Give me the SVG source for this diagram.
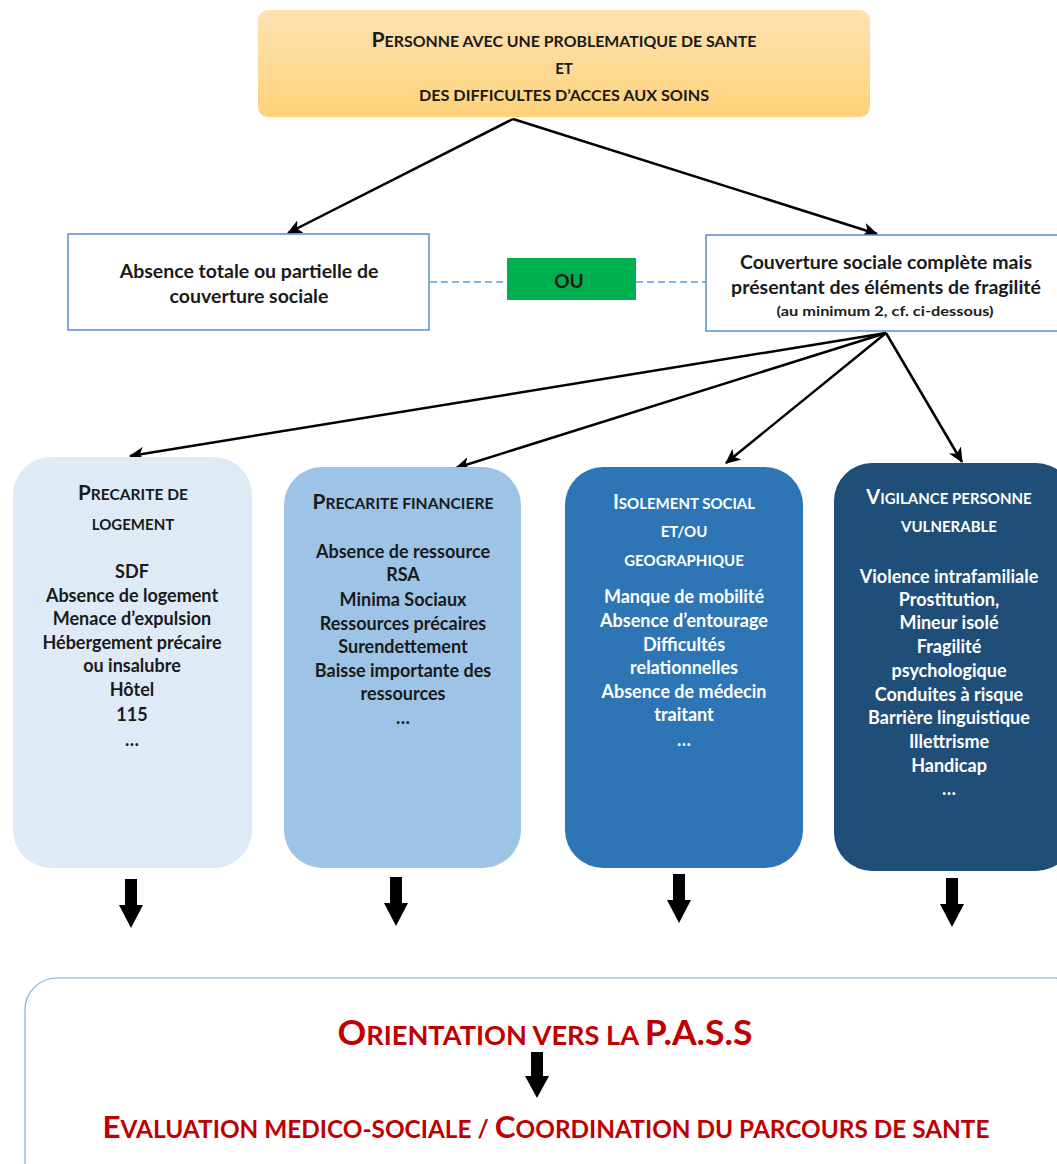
<svg xmlns="http://www.w3.org/2000/svg" width="1057" height="1164" viewBox="0 0 1057 1164">
<defs>
<linearGradient id="gTop" x1="0" y1="0" x2="0" y2="1">
<stop offset="0" stop-color="#FCE2B2"/>
<stop offset="1" stop-color="#FFD27A"/>
</linearGradient>
<marker id="ah" markerUnits="userSpaceOnUse" markerWidth="16" markerHeight="14" refX="14" refY="7" orient="auto">
<path d="M0,0 L15,7 L0,14 L4,7 Z" fill="#000"/>
</marker>
<style>
.t{font-family:Lato,"Open Sans","Liberation Sans",sans-serif;font-weight:bold;text-anchor:middle}
.dk{fill:#1a1a1a}
.wh{fill:#ffffff}
.it{font-size:18px}
.bx{font-size:19.5px}
.red{fill:#C00000}
.conn{stroke:#000;stroke-width:2.5;fill:none;marker-end:url(#ah)}
.dash{stroke:#5B9BD5;stroke-width:1.3;stroke-dasharray:7,4;fill:none}
.blk{fill:#000}
</style>
</defs>

<g id="connectors">
<line class="conn" x1="513" y1="119" x2="288" y2="233"/>
<line class="conn" x1="513" y1="119" x2="877" y2="234"/>
<line class="dash" x1="430" y1="282" x2="507" y2="282"/>
<line class="dash" x1="636" y1="282" x2="706" y2="282"/>
<line class="conn" x1="886" y1="333" x2="130" y2="456"/>
<line class="conn" x1="886" y1="333" x2="456" y2="468"/>
<line class="conn" x1="886" y1="333" x2="726" y2="463"/>
<line class="conn" x1="886" y1="333" x2="962" y2="462"/>
<path class="blk" d="M125,879 H137 V905 H143 L131,928 L119,905 H125 Z"/>
<path class="blk" d="M390,877 H402 V903 H408 L396,926 L384,903 H390 Z"/>
<path class="blk" d="M673,874 H685 V900 H691 L679,923 L667,900 H673 Z"/>
<path class="blk" d="M946,878 H958 V904 H964 L952,927 L940,904 H946 Z"/>
</g>

<g id="top">
<rect x="258" y="10" width="612" height="107" rx="10" fill="url(#gTop)"/>
<text class="t dk" x="564" y="47" textLength="385" lengthAdjust="spacingAndGlyphs"><tspan font-size="20">P</tspan><tspan font-size="15">ERSONNE AVEC UNE PROBLEMATIQUE DE SANTE</tspan></text>
<text class="t dk" x="564" y="74" font-size="15">ET</text>
<text class="t dk" x="564" y="101" font-size="15" textLength="290" lengthAdjust="spacingAndGlyphs">DES DIFFICULTES D’ACCES AUX SOINS</text>
</g>

<g id="absence">
<rect x="68" y="234" width="361" height="96" fill="#fff" stroke="#5B8BD6" stroke-width="1.5"/>
<text class="t dk bx" x="249" y="278">Absence totale ou partielle de</text>
<text class="t dk bx" x="249" y="303">couverture sociale</text>
</g>

<g id="ou">
<rect x="507" y="258" width="129" height="42" fill="#00B050"/>
<text class="t dk" x="569" y="288" font-size="19">OU</text>
</g>

<g id="couverture">
<rect x="706" y="235" width="355" height="96" fill="#fff" stroke="#5B8BD6" stroke-width="1.5"/>
<text class="t dk bx" x="886" y="269">Couverture sociale complète mais</text>
<text class="t dk bx" x="886" y="294">présentant des éléments de fragilité</text>
<text class="t dk" x="885" y="316" font-size="14" textLength="217" lengthAdjust="spacingAndGlyphs">(au minimum 2, cf. ci-dessous)</text>
</g>

<g id="logement">
<rect x="13" y="457" width="239" height="411" rx="38" fill="#DEEAF6"/>
<text class="t dk" x="133" y="500" textLength="110" lengthAdjust="spacingAndGlyphs"><tspan font-size="20">P</tspan><tspan font-size="15">RECARITE DE</tspan></text>
<text class="t dk" x="133" y="530" font-size="15">LOGEMENT</text>
<text class="t dk it" x="132" y="578">SDF</text>
<text class="t dk it" x="132" y="602">Absence de logement</text>
<text class="t dk it" x="132" y="625">Menace d’expulsion</text>
<text class="t dk it" x="132" y="649">Hébergement précaire</text>
<text class="t dk it" x="132" y="672">ou insalubre</text>
<text class="t dk it" x="132" y="696">Hôtel</text>
<text class="t dk it" x="132" y="721">115</text>
<text class="t dk it" x="132" y="746">…</text>
</g>

<g id="financiere">
<rect x="284" y="467" width="237" height="401" rx="38" fill="#9DC3E6"/>
<text class="t dk" x="403" y="509" textLength="181" lengthAdjust="spacingAndGlyphs"><tspan font-size="20">P</tspan><tspan font-size="15">RECARITE FINANCIERE</tspan></text>
<text class="t dk it" x="403" y="558">Absence de ressource</text>
<text class="t dk it" x="403" y="581">RSA</text>
<text class="t dk it" x="403" y="606">Minima Sociaux</text>
<text class="t dk it" x="403" y="630">Ressources précaires</text>
<text class="t dk it" x="403" y="653">Surendettement</text>
<text class="t dk it" x="403" y="677">Baisse importante des</text>
<text class="t dk it" x="403" y="700">ressources</text>
<text class="t dk it" x="403" y="724">…</text>
</g>

<g id="isolement">
<rect x="565" y="467" width="238" height="401" rx="38" fill="#2E75B6"/>
<text class="t wh" x="684" y="509"><tspan font-size="20">I</tspan><tspan font-size="15">SOLEMENT SOCIAL</tspan></text>
<text class="t wh" x="684" y="537" font-size="15">ET/OU</text>
<text class="t wh" x="684" y="566" font-size="15">GEOGRAPHIQUE</text>
<text class="t wh it" x="684" y="603">Manque de mobilité</text>
<text class="t wh it" x="684" y="627">Absence d’entourage</text>
<text class="t wh it" x="684" y="651">Difficultés</text>
<text class="t wh it" x="684" y="674">relationnelles</text>
<text class="t wh it" x="684" y="698">Absence de médecin</text>
<text class="t wh it" x="684" y="721">traitant</text>
<text class="t wh it" x="684" y="746">…</text>
</g>

<g id="vigilance">
<rect x="834" y="463" width="240" height="408" rx="38" fill="#1F4E79"/>
<text class="t wh" x="949" y="504"><tspan font-size="20">V</tspan><tspan font-size="15">IGILANCE PERSONNE</tspan></text>
<text class="t wh" x="949" y="532" font-size="15">VULNERABLE</text>
<text class="t wh it" x="949" y="583">Violence intrafamiliale</text>
<text class="t wh it" x="949" y="606">Prostitution,</text>
<text class="t wh it" x="949" y="629">Mineur isolé</text>
<text class="t wh it" x="949" y="653">Fragilité</text>
<text class="t wh it" x="949" y="677">psychologique</text>
<text class="t wh it" x="949" y="701">Conduites à risque</text>
<text class="t wh it" x="949" y="724">Barrière linguistique</text>
<text class="t wh it" x="949" y="748">Illettrisme</text>
<text class="t wh it" x="949" y="772">Handicap</text>
<text class="t wh it" x="949" y="795">…</text>
</g>

<g id="pass">
<rect x="25" y="978" width="1060" height="220" rx="32" fill="#fff" stroke="#7FAEE0" stroke-width="1.2"/>
<text class="t red" x="545" y="1045" textLength="415" lengthAdjust="spacingAndGlyphs"><tspan font-size="34">O</tspan><tspan font-size="26">RIENTATION VERS LA </tspan><tspan font-size="34">P.A.S.S</tspan></text>
<path class="blk" d="M531,1052 H543 V1076 H549 L537,1098 L525,1076 H531 Z"/>
<text class="t red" x="546" y="1138" textLength="887" lengthAdjust="spacingAndGlyphs"><tspan font-size="31">E</tspan><tspan font-size="24">VALUATION MEDICO-SOCIALE / </tspan><tspan font-size="31">C</tspan><tspan font-size="24">OORDINATION DU PARCOURS DE SANTE</tspan></text>
</g>
</svg>
